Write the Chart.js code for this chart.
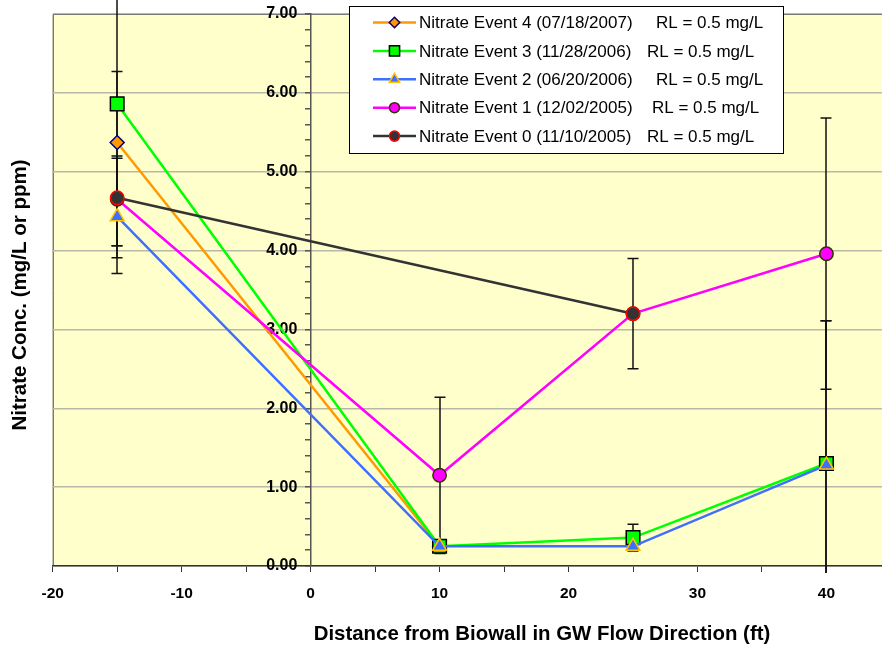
<!DOCTYPE html>
<html>
<head>
<meta charset="utf-8">
<script src="https://cdn.jsdelivr.net/npm/chart.js@4.4.0/dist/chart.umd.min.js"></script>
<style>
    body { margin: 0; background: #fff; overflow: hidden; }
    /* the plot runs off the right edge in the reference, so the canvas is a bit wider than the view */
    #wrap { width: 882px; height: 648px; overflow: hidden; }
</style>
</head>
<body>
<div id="wrap"><canvas id="nitrateChart" width="893" height="648"></canvas></div>
<script>
// distance from biowall (ft)
const distance = [-15, 10, 25, 40];

// nitrate conc. (mg/L), null = no sample
const event4 = [5.37, 0.25, null, null];
const event3 = [5.86, 0.25, 0.36, 1.30];
const event2 = [4.43, 0.25, 0.25, 1.28];
const event1 = [4.65, 1.15, 3.20, 3.96];
const event0 = [4.67, null, 3.20, null];

// error bar ends
const event4Low  = [4.06, null, null, null];
const event4High = [6.27, null, null, null];
const event3Low  = [3.91, null, 0.19, -0.51];
const event3High = [7.75, null, 0.53, 3.11];
const event2Low  = [3.71, null, null, -0.53];
const event2High = [5.17, null, null, 3.11];
const event1Low  = [null, 0.16, 2.50, 2.24];
const event1High = [null, 2.14, 3.90, 5.68];
const event0Low  = [4.06, null, null, null];
const event0High = [5.20, null, null, null];

const eventNames = [
    'Nitrate Event 0 (11/10/2005)',
    'Nitrate Event 1 (12/02/2005)',
    'Nitrate Event 2 (06/20/2006)',
    'Nitrate Event 3 (11/28/2006)',
    'Nitrate Event 4 (07/18/2007)'
];
const rlLabel = 'RL = 0.5 mg/L';
const xTitle = 'Distance from Biowall in GW Flow Direction (ft)';
const yTitle = 'Nitrate Conc. (mg/L or ppm)';

const FONT = '"Liberation Sans", Arial, sans-serif';

function toPoints(values) {
    let pts = [];
    for (let i = 0; i < distance.length; i++) {
        if (values[i] !== null) pts.push({ x: distance[i], y: values[i] });
    }
    return pts;
}

function makeSet(name, values, low, high, line, style, radius, fill, edge) {
    return {
        label: name,
        data: toPoints(values),
        errLow: low,
        errHigh: high,
        borderColor: line,
        borderWidth: 2.5,
        pointStyle: style,
        pointRadius: radius,
        pointHoverRadius: radius,
        pointBackgroundColor: fill,
        pointBorderColor: edge,
        pointBorderWidth: 1.5,
        spanGaps: true,
        tension: 0
    };
}

// index 0 is drawn on top
const datasets = [
    makeSet(eventNames[0], event0, event0Low, event0High, '#333333', 'circle', 6.7, '#333333', '#ff0000'),
    makeSet(eventNames[1], event1, event1Low, event1High, '#ff00ff', 'circle', 6.7, '#ff00ff', '#333300'),
    makeSet(eventNames[2], event2, event2Low, event2High, '#3f6fff', 'triangle', 8, '#3f6fff', '#ffc000'),
    makeSet(eventNames[3], event3, event3Low, event3High, '#00ff00', 'rect', 9.6, '#00ff00', '#000000'),
    makeSet(eventNames[4], event4, event4Low, event4High, '#ff9900', 'rectRot', 7, '#ff9900', '#000080')
];

// ################################################################################################
const plotBackground = {
    id: 'plotBackground',
    beforeDraw(chart) {
        const { ctx, chartArea: a } = chart;
        ctx.save();
        ctx.fillStyle = '#ffffcc';
        ctx.fillRect(a.left, a.top, a.right - a.left, a.bottom - a.top);
        ctx.strokeStyle = '#404040';
        ctx.lineWidth = 1;
        ctx.beginPath();
        ctx.moveTo(a.left + 0.5, a.bottom);
        ctx.lineTo(a.left + 0.5, a.top + 0.5);
        ctx.lineTo(a.right, a.top + 0.5);
        ctx.stroke();
        ctx.restore();
    }
};

const errorBars = {
    id: 'errorBars',
    beforeDatasetsDraw(chart) {
        const { ctx, scales: { x, y }, chartArea: a } = chart;
        ctx.save();
        ctx.beginPath();
        ctx.rect(0, 0, chart.width, a.bottom + 7);
        ctx.clip();
        ctx.strokeStyle = '#111111';
        ctx.lineWidth = 1.5;
        chart.data.datasets.forEach(ds => {
            for (let i = 0; i < distance.length; i++) {
                if (ds.errLow[i] === null) continue;
                const px = Math.round(x.getPixelForValue(distance[i]));
                const y1 = y.getPixelForValue(ds.errLow[i]);
                const y2 = y.getPixelForValue(ds.errHigh[i]);
                ctx.beginPath();
                ctx.moveTo(px, y1);
                ctx.lineTo(px, y2);
                ctx.moveTo(px - 5.5, y1);
                ctx.lineTo(px + 5.5, y1);
                ctx.moveTo(px - 5.5, y2);
                ctx.lineTo(px + 5.5, y2);
                ctx.stroke();
            }
        });
        ctx.restore();
    }
};

const rlX = [647, 652, 656, 647, 656];

const boxLegend = {
    id: 'boxLegend',
    afterDraw(chart) {
        const ctx = chart.ctx;
        ctx.save();
        ctx.fillStyle = '#ffffff';
        ctx.fillRect(349, 6, 434, 147);
        ctx.strokeStyle = '#000000';
        ctx.lineWidth = 1;
        ctx.strokeRect(349.5, 6.5, 434, 147);
        ctx.font = '17px ' + FONT;
        ctx.textBaseline = 'middle';
        const ds = chart.data.datasets;
        for (let r = 0; r < ds.length; r++) {
            const d = ds[ds.length - 1 - r];
            const ry = 22.5 + r * 28.4;
            ctx.strokeStyle = d.borderColor;
            ctx.lineWidth = 2.5;
            ctx.beginPath();
            ctx.moveTo(373, ry);
            ctx.lineTo(416, ry);
            ctx.stroke();
            ctx.fillStyle = d.pointBackgroundColor;
            ctx.strokeStyle = d.pointBorderColor;
            ctx.lineWidth = 1.5;
            Chart.helpers.drawPoint(ctx, {
                pointStyle: d.pointStyle,
                radius: d.pointRadius * 0.75,
                borderWidth: 1.5,
                rotation: 0
            }, 394.5, ry);
            ctx.fillStyle = '#000000';
            ctx.fillText(d.label, 419, ry + 1);
            ctx.fillText(rlLabel, rlX[ds.length - 1 - r], ry + 1);
        }
        ctx.restore();
    }
};

const axisTitles = {
    id: 'axisTitles',
    afterDraw(chart) {
        const ctx = chart.ctx;
        ctx.save();
        ctx.fillStyle = '#000000';
        ctx.textAlign = 'center';
        ctx.textBaseline = 'middle';
        ctx.font = 'bold 20.4px ' + FONT;
        ctx.fillText(xTitle, 542, 634);
        ctx.translate(20, 295);
        ctx.rotate(-Math.PI / 2);
        ctx.font = 'bold 20.5px ' + FONT;
        ctx.fillText(yTitle, 0, 0);
        ctx.restore();
    }
};

function isWhole(v) {
    return Math.abs(v - Math.round(v)) < 1e-6;
}

const chart = new Chart(document.getElementById('nitrateChart'), {
    type: 'line',
    data: { datasets: datasets },
    options: {
        responsive: false,
        animation: false,
        layout: { padding: { left: 53, top: 14, right: 0, bottom: 46 } },
        plugins: {
            legend: { display: false },
            tooltip: { enabled: false }
        },
        scales: {
            x: {
                type: 'linear',
                position: 'bottom',
                min: -20,
                max: 44.3,
                grid: {
                    drawOnChartArea: false,
                    drawTicks: true,
                    tickLength: 6,
                    tickColor: '#333333'
                },
                border: { color: '#333333', width: 1.5 },
                ticks: {
                    stepSize: 5,
                    includeBounds: false,
                    autoSkip: false,
                    maxRotation: 0,
                    padding: 12,
                    color: '#000000',
                    font: { family: FONT, size: 15.5, weight: 'bold' },
                    callback: v => (v % 10 === 0 ? v : '')
                }
            },
            y: {
                type: 'linear',
                position: { x: 0 },
                min: 0,
                max: 7,
                grid: {
                    color: c => (isWhole(c.tick.value) ? '#b8b8a8' : 'rgba(0,0,0,0)'),
                    lineWidth: 1.5,
                    drawTicks: true,
                    tickLength: 5,
                    tickColor: '#555555'
                },
                border: { color: '#555555', width: 1.5 },
                ticks: {
                    stepSize: 0.2,
                    autoSkip: false,
                    color: '#000000',
                    font: { family: FONT, size: 16, weight: 'bold' },
                    // labels sit right on the axis line, trailing spaces push them off it
                    callback: v => (isWhole(v) ? v.toFixed(2) + '   ' : '')
                }
            }
        }
    },
    plugins: [plotBackground, errorBars, boxLegend, axisTitles]
});

// nudge the padding until the plot box lands where the reference has it
const target = { left: 52.7, top: 14, bottom: 566 };
for (let k = 0; k < 3; k++) {
    const a = chart.chartArea;
    const p = chart.options.layout.padding;
    p.left += target.left - a.left;
    p.top += target.top - a.top;
    p.bottom -= target.bottom - a.bottom;
    chart.update();
}
</script>
</body>
</html>
